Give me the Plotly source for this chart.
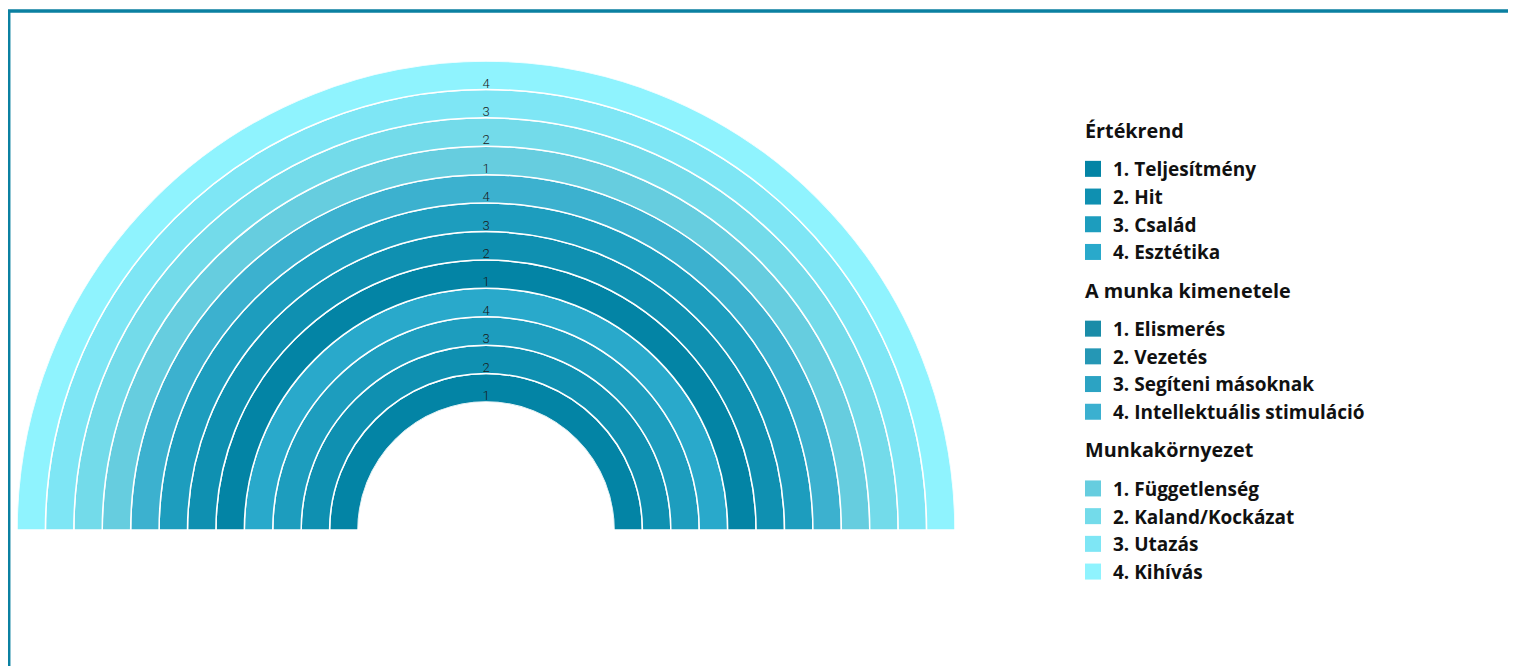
import plotly.graph_objects as go

# ---- data ----
group_titles = ["Értékrend", "A munka kimenetele", "Munkakörnyezet"]
group_items = [
    ["1. Teljesítmény", "2. Hit", "3. Család", "4. Esztétika"],
    ["1. Elismerés", "2. Vezetés", "3. Segíteni másoknak", "4. Intellektuális stimuláció"],
    ["1. Függetlenség", "2. Kaland/Kockázat", "3. Utazás", "4. Kihívás"],
]
band_labels = ["1", "2", "3", "4"]
band_values = [
    [1, 1, 1, 1],
    [1, 1, 1, 1],
    [1, 1, 1, 1],
]
group_colors = [
    ["#0384a5", "#0f90b1", "#1d9dbe", "#29a9cb"],
    ["#0384a5", "#0f90b1", "#1d9dbe", "#3cb1cf"],
    ["#66cddf", "#73dbea", "#7ee6f5", "#8ff3fe"],
]
legend_colors = [
    ["#0384a5", "#0f90b1", "#1d9dbe", "#29a9cb"],
    ["#1a8ca8", "#2597b5", "#2ca3c3", "#3bb0d0"],
    ["#66cddf", "#73dbea", "#7ee6f5", "#8ff3fe"],
]

# page body adds an 8px offset; figure sized to fill the rest of the window
W, H = 1508, 658
OFF = 8
FONT = "Open Sans"
FS = 19
FS_TITLE = 19.8

fig = go.Figure()

# stacked semicircular bands
base = 0.0
label_r, label_t = [], []
for g, title in enumerate(group_titles):
    for i, name in enumerate(group_items[g]):
        v = band_values[g][i]
        fig.add_trace(go.Barpolar(
            r=[v], theta=[90], width=[180], base=[base],
            marker=dict(color=group_colors[g][i], line=dict(color="white", width=1.5)),
            name=name, showlegend=False, hoverinfo="name",
        ))
        label_r.append(base + 0.18 * v)
        label_t.append(band_labels[i])
        base += v

# legend entries
for g, title in enumerate(group_titles):
    for i, name in enumerate(group_items[g]):
        fig.add_trace(go.Scatterpolar(
            r=[None], theta=[None], mode="markers",
            marker=dict(symbol="square", size=16, color=legend_colors[g][i]),
            name=name, legendgroup=title, showlegend=True,
        ))

# band labels
fig.add_trace(go.Scatterpolar(
    r=label_r, theta=[90] * len(label_r), mode="text", text=label_t,
    textfont=dict(family="Roboto", size=13, color="#1a1a1a", weight=300),
    showlegend=False, hoverinfo="skip",
))

# group titles of the legend
title_y = [130, 290, 450]
annotations = [
    dict(text=t, xref="paper", yref="paper",
         x=(1083 - OFF) / W, y=1 - (ty - OFF) / H, xanchor="left", yanchor="middle",
         showarrow=False, font=dict(family=FONT, size=FS_TITLE, color="#111", weight="bold"))
    for t, ty in zip(group_titles, title_y)
]

total = sum(sum(v) for v in band_values)
fig.update_layout(
    width=W, height=H,
    margin=dict(l=0, r=0, t=0, b=0),
    paper_bgcolor="white",
    polar=dict(
        domain=dict(x=[(16 - OFF) / W, (956 - OFF) / W], y=[1 - (530 - OFF) / H, 1 - (61 - OFF) / H]),
        sector=[0, 180],
        hole=128 / 469,
        bgcolor="white",
        barmode="stack",
        radialaxis=dict(visible=False, range=[0, total]),
        angularaxis=dict(visible=False, direction="counterclockwise", rotation=0),
    ),
    legend=dict(
        x=1065 / W, y=1 - (150 - OFF) / H, xanchor="left", yanchor="top",
        font=dict(family=FONT, size=FS, color="#111", weight="bold"),
        tracegroupgap=49, bgcolor="rgba(0,0,0,0)",
    ),
    annotations=annotations,
    shapes=[dict(
        type="rect", xref="paper", yref="paper",
        x0=(8.7 - OFF) / W, x1=1.2, y0=-0.2, y1=1 - (11 - OFF) / H,
        line=dict(color="#0b80a1", width=3.5), fillcolor="rgba(0,0,0,0)",
    )],
)

fig.write_html("out.html")
